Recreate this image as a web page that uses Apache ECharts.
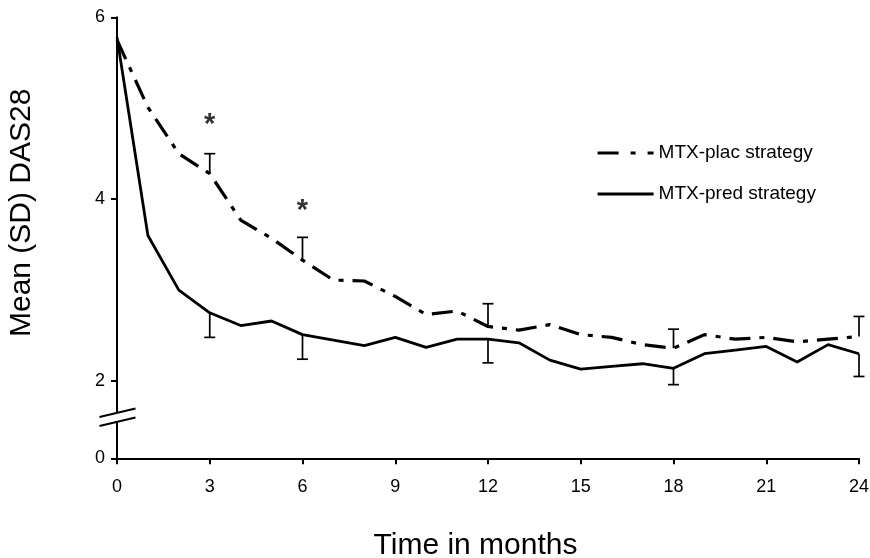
<!DOCTYPE html>
<html>
<head>
<meta charset="utf-8">
<script src="https://cdn.jsdelivr.net/npm/echarts@6/dist/echarts.min.js"></script>
<style>
html, body { margin: 0; padding: 0; background: #fff; }
#chart { width: 870px; height: 558px; }
</style>
</head>
<body>
<div id="chart"></div>
<script>
// months 0..24
const months = [0, 1, 2, 3, 4, 5, 6, 7, 8, 9, 10, 11, 12, 13, 14, 15, 16, 17, 18, 19, 20, 21, 22, 23, 24]
const placMean = [5.75, 5.01, 4.50, 4.28, 3.77, 3.57, 3.33, 3.11, 3.10, 2.93, 2.73, 2.77, 2.60, 2.56, 2.62, 2.51, 2.48, 2.40, 2.36, 2.51, 2.46, 2.48, 2.43, 2.46, 2.49]
const predMean = [5.78, 3.60, 3.00, 2.75, 2.61, 2.66, 2.51, 2.45, 2.39, 2.48, 2.37, 2.46, 2.46, 2.42, 2.23, 2.13, 2.16, 2.19, 2.14, 2.30, 2.34, 2.38, 2.21, 2.40, 2.30]
// SD bars: plac drawn upward, pred drawn downward
const sdMonths = [3, 6, 12, 18, 24]
const placSd = [0.22, 0.25, 0.25, 0.21, 0.22]
const predSd = [0.27, 0.27, 0.26, 0.18, 0.25]
// significance stars
const starMonths = [3, 6]
const starValues = [4.89, 3.95]
const xTicks = [0, 3, 6, 9, 12, 15, 18, 21, 24]
// broken axis: the bottom value stands for 0
const yTickValues = [1.15, 2, 4, 6]
const yTickLabels = ['0', '2', '4', '6']
const yBreakAt = 1.6

const seriesNames = ['MTX-plac strategy', 'MTX-pred strategy']
const font = 'Liberation Sans, Arial, sans-serif'

const chart = echarts.init(document.getElementById('chart'))

function errorBars (means, sds, dir) {
  return sdMonths.map((m, i) => {
    const mean = means[months.indexOf(m)]
    return [m, mean, mean + dir * sds[i]]
  })
}

function renderBar (params, api) {
  const p1 = api.coord([api.value(0), api.value(1)])
  const p2 = api.coord([api.value(0), api.value(2)])
  const st = { stroke: '#000', lineWidth: 1.7 }
  return {
    type: 'group',
    children: [
      { type: 'line', shape: { x1: p1[0], y1: p1[1], x2: p2[0], y2: p2[1] }, style: st },
      { type: 'line', shape: { x1: p2[0] - 5.5, y1: p2[1], x2: p2[0] + 5.5, y2: p2[1] }, style: st }
    ]
  }
}

const noSymbol = { color: 'rgba(0,0,0,0)', borderWidth: 0 }

const option = {
  animation: false,
  backgroundColor: '#fff',
  grid: { left: 117, right: 11, top: 17.3, bottom: 99.7, outerBoundsMode: 'none', containLabel: false },
  legend: {
    orient: 'vertical',
    left: 596,
    top: 143.5,
    padding: 0,
    itemWidth: 56,
    itemHeight: 14,
    itemGap: 22,
    textStyle: { fontSize: 19, color: '#000', fontFamily: font },
    data: [
      { name: seriesNames[0], itemStyle: noSymbol, lineStyle: { type: [21, 12, 5, 12, 7, 80], width: 3.2 } },
      { name: seriesNames[1], itemStyle: noSymbol, lineStyle: { width: 3 } }
    ]
  },
  xAxis: {
    type: 'value',
    min: 0,
    max: 24,
    interval: 3,
    name: 'Time in months',
    nameLocation: 'middle',
    nameGap: 72,
    nameTextStyle: { fontSize: 30, color: '#000', fontFamily: font, padding: [0, 25, 0, 0] },
    axisLine: { lineStyle: { color: '#000', width: 2 } },
    axisTick: { length: 6, lineStyle: { color: '#000', width: 2 } },
    axisLabel: {
      fontSize: 18, color: '#000', fontFamily: font, margin: 20,
      customValues: xTicks
    },
    splitLine: { show: false }
  },
  yAxis: {
    type: 'value',
    min: yTickValues[0],
    max: 6,
    name: 'Mean (SD) DAS28',
    nameLocation: 'middle',
    nameGap: 80,
    nameTextStyle: { fontSize: 30, color: '#000', fontFamily: font, padding: [0, 0, 0, 50] },
    axisLine: { show: true, lineStyle: { color: '#000', width: 2 } },
    axisTick: { show: true, length: 6, lineStyle: { color: '#000', width: 2 }, customValues: yTickValues },
    axisLabel: {
      fontSize: 18, color: '#000', fontFamily: font, margin: 12,
      customValues: yTickValues,
      formatter: v => yTickLabels[yTickValues.indexOf(v)]
    },
    splitLine: { show: false }
  },
  series: [
    {
      name: seriesNames[0],
      type: 'line',
      symbol: 'none',
      data: months.map((m, i) => [m, placMean[i]]),
      lineStyle: { color: '#000', width: 3.2, type: [21, 9, 5, 9] },
      itemStyle: { color: '#000' }
    },
    {
      name: seriesNames[1],
      type: 'line',
      symbol: 'none',
      data: months.map((m, i) => [m, predMean[i]]),
      lineStyle: { color: '#000', width: 2.8, type: 'solid' },
      itemStyle: { color: '#000' }
    },
    {
      type: 'custom',
      renderItem: renderBar,
      data: errorBars(placMean, placSd, 1),
      z: 3
    },
    {
      type: 'custom',
      renderItem: renderBar,
      data: errorBars(predMean, predSd, -1),
      z: 3
    },
    {
      type: 'scatter',
      symbolSize: 1,
      itemStyle: { color: 'rgba(0,0,0,0)' },
      data: starMonths.map((m, i) => [m, starValues[i]]),
      label: {
        show: true,
        position: 'inside',
        formatter: '*',
        offset: [0, 7],
        fontSize: 29,
        fontWeight: 'bold',
        color: '#000',
        fontFamily: font
      }
    }
  ]
}

chart.setOption(option)

// axis break mark "//"
const pb = chart.convertToPixel({ gridIndex: 0 }, [0, yBreakAt])
const slope = 0.235
function slash (dy) {
  return {
    type: 'line',
    z: 100,
    shape: { x1: pb[0] - 17.5, y1: pb[1] + dy + 17.5 * slope, x2: pb[0] + 18.5, y2: pb[1] + dy - 18.5 * slope },
    style: { stroke: '#000', lineWidth: 2 }
  }
}
chart.setOption({
  graphic: [
    { type: 'rect', z: 99, shape: { x: pb[0] - 3, y: pb[1] - 4.5, width: 6, height: 9 }, style: { fill: '#fff' } },
    slash(-4.5),
    slash(4.5)
  ]
})
</script>
</body>
</html>
